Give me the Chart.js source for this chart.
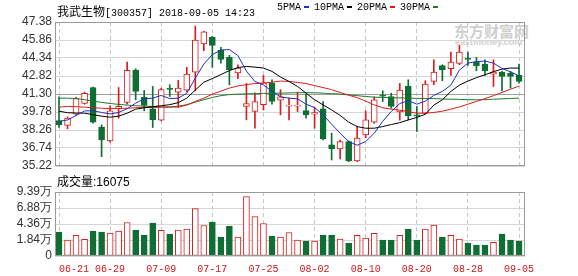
<!DOCTYPE html>
<html>
<head>
<meta charset="utf-8">
<script src="https://cdn.jsdelivr.net/npm/chart.js@4.4.1/dist/chart.umd.min.js"></script>
<style>
body { margin: 0; background: #fff; }
#wrap { position: relative; width: 578px; height: 276px; overflow: hidden; background: #fff; }
#wrap canvas { position: absolute; left: 0; }
#priceCanvas { top: 0; }
#volCanvas { top: 176px; }
.txt { position: absolute; white-space: pre; line-height: 14px; color: #000; }
.mono { font: 10px "Liberation Mono", monospace; }
.cjk { font: 12px "Noto Sans CJK SC", sans-serif; }
.dash { display: inline-block; width: 5px; height: 2px; margin: 0 5px 0 3px; vertical-align: middle; }
.mark { position: absolute; color: #cfcfcf; font-weight: bold; white-space: pre; }
</style>
</head>
<body>
<div id="wrap">
  <div class="mark" style="left:454px;top:20px;font:bold 15px 'Noto Sans CJK SC';">东方财富网</div>
  <div class="mark" style="left:455px;top:37px;font:bold 9px 'Liberation Sans';">eastmoney.com</div>
  <canvas id="priceCanvas" width="578" height="178"></canvas>
  <canvas id="volCanvas" width="578" height="100"></canvas>
  <div class="txt mono" style="left:57px;top:2px;"><span class="cjk">我武生物</span>[300357] 2018-09-05 14:23</div>
  <div class="txt mono" style="left:277px;top:2px;">5PMA<span class="dash" style="background:#1f2fc4"></span>10PMA<span class="dash" style="background:#000"></span>20PMA<span class="dash" style="background:#e01b1b"></span>30PMA<span class="dash" style="background:#1d7a2c"></span></div>
  <div class="txt" style="left:57px;top:172px;font:12px 'Liberation Sans','Noto Sans CJK SC';">成交量:16075</div>
</div>
<script>
// 日线数据
const dates = ['06-21','06-22','06-25','06-26','06-27','06-28','06-29','07-02','07-03','07-04',
  '07-05','07-06','07-09','07-10','07-11','07-12','07-13','07-16','07-17','07-18',
  '07-19','07-20','07-23','07-24','07-25','07-26','07-27','07-30','07-31','08-01',
  '08-02','08-03','08-06','08-07','08-08','08-09','08-10','08-13','08-14','08-15',
  '08-16','08-17','08-20','08-21','08-22','08-23','08-24','08-27','08-28','08-29',
  '08-30','08-31','09-03','09-04','09-05'];

const opens = [39.06,38.64,39.60,40.50,41.85,38.50,37.34,40.05,40.58,43.32,
  41.01,40.05,39.09,41.80,41.46,41.63,43.15,45.52,46.08,45.01,
  44.39,43.07,40.25,39.82,40.39,42.22,40.78,40.27,40.27,39.91,
  39.60,40.05,37.00,36.66,37.28,35.65,37.85,38.92,41.20,41.09,
  39.79,41.97,39.54,39.68,42.36,43.71,43.43,43.88,44.34,44.00,
  43.83,42.98,43.15,43.07,42.87];
const closes = [38.69,39.26,40.92,41.35,38.92,37.42,39.88,40.25,43.29,41.51,
  40.33,39.12,41.68,41.68,41.80,42.98,45.86,46.54,45.41,44.22,
  43.35,43.49,40.50,40.67,42.25,40.67,41.06,40.30,40.33,39.54,
  39.74,37.51,36.66,37.28,35.65,37.57,39.12,40.81,41.12,40.25,
  41.63,39.46,39.43,42.13,43.15,43.35,44.00,44.84,44.22,43.69,
  43.26,43.15,42.78,42.78,42.36];
const highs = [41.06,39.37,41.01,41.46,41.88,38.69,40.30,41.85,43.99,43.43,
  41.60,41.94,41.80,42.08,42.45,43.55,47.04,46.59,46.17,45.24,
  44.56,43.77,42.19,41.40,42.87,42.50,41.66,40.95,41.46,41.29,
  40.16,40.67,37.99,37.40,37.34,38.55,39.88,41.06,41.57,41.37,
  42.19,42.50,40.25,42.42,44.19,43.77,44.84,45.41,44.84,44.39,
  44.19,44.19,43.21,43.21,43.83];
const lows = [38.47,38.36,39.54,40.44,38.83,36.01,37.23,39.26,40.44,40.81,
  39.88,38.47,39.03,41.09,40.16,41.51,41.57,44.96,43.55,43.91,
  42.08,42.59,39.12,38.41,39.94,40.44,39.54,39.12,39.82,39.26,
  38.41,37.42,35.73,35.82,35.59,35.59,37.62,38.83,40.67,40.10,
  39.09,39.12,38.13,39.60,42.08,42.42,42.87,43.77,43.71,43.26,
  42.87,41.94,41.57,41.80,42.22];

const ma5 = [38.98,39.11,39.48,39.87,39.89,39.74,39.62,39.74,40.06,40.53,
  40.89,40.95,41.18,40.91,40.95,41.37,42.64,43.83,44.63,45.01,
  45.05,44.55,43.23,42.36,42.07,41.52,41.06,40.95,40.89,40.44,
  40.16,39.54,38.75,37.99,37.29,36.97,37.29,37.99,39.00,39.82,
  40.49,40.74,40.44,40.70,41.18,41.52,42.05,43.32,43.91,44.04,
  44.08,43.91,43.46,43.17,42.83];
const ma10 = [39.85,39.72,39.70,39.68,39.55,39.43,39.34,39.43,39.68,40.02,
  40.14,40.23,40.31,40.40,40.57,40.95,41.63,42.30,42.60,42.94,
  43.28,43.53,43.63,43.57,43.49,43.21,42.73,42.36,41.94,41.37,
  40.82,40.38,39.96,39.49,38.92,38.55,38.41,38.41,38.55,38.72,
  38.88,39.11,39.32,39.59,40.36,40.81,41.52,42.05,42.39,42.68,
  42.92,43.19,43.40,43.49,43.49];
const ma20 = [40.19,40.25,40.23,40.19,40.14,40.10,40.06,40.08,40.10,40.14,
  40.16,40.16,40.19,40.19,40.20,40.36,40.67,40.95,41.29,41.54,
  41.80,41.98,42.09,42.18,42.22,42.30,42.39,42.36,42.28,42.18,
  42.01,41.84,41.67,41.43,41.20,40.99,40.70,40.38,40.14,40.02,
  39.93,39.81,39.68,39.68,39.74,39.85,40.02,40.21,40.44,40.67,
  40.91,41.16,41.43,41.71,41.96];
const ma30 = [40.95,40.95,40.92,40.82,40.70,40.59,40.50,40.42,40.36,40.31,
  40.27,40.25,40.21,40.21,40.27,40.40,40.61,40.82,41.01,41.16,
  41.25,41.29,41.31,41.33,41.35,41.37,41.37,41.39,41.41,41.41,
  41.40,41.37,41.33,41.29,41.22,41.16,41.09,41.03,41.01,40.99,
  40.97,40.95,40.93,40.92,40.91,40.88,40.86,40.85,40.82,40.81,
  40.82,40.86,40.89,40.92,40.95];

// 成交量 (万)
const volumes = [3.50,2.34,3.02,2.43,3.65,3.50,3.36,3.65,4.91,3.79,
  3.07,4.82,3.75,3.21,3.79,3.94,6.96,4.48,4.96,2.77,
  4.38,2.77,8.71,5.79,4.77,2.92,2.77,3.45,2.34,2.19,
  2.19,3.07,3.07,2.48,1.90,3.02,2.63,3.31,2.34,2.34,
  3.02,3.94,2.34,3.94,4.52,2.77,3.02,2.48,1.90,1.61,
  1.61,1.99,3.21,2.34,2.19];

const priceTicks = [35.22,36.74,38.26,39.78,41.30,42.82,44.34,45.86,47.38];
const volTickLabels = ['0','1.84万','4.36万','6.88万','9.39万'];
const volMax = 9.39;
const dateTickIdx = [0,6,12,18,24,30,36,42,48,54];

const RED = '#d81e1e';
const GREEN = '#0f6e34';
const up = closes.map((c, i) => c >= opens[i]);

// 画边框
const frame = {
  id: 'frame',
  afterDatasetsDraw(chart) {
    const a = chart.chartArea, ctx = chart.ctx;
    ctx.save();
    ctx.strokeStyle = '#9a9a9a';
    ctx.lineWidth = 1;
    ctx.strokeRect(Math.round(a.left) + 0.5, Math.round(a.top) + 0.5,
      Math.round(a.right - a.left) - 1, Math.round(a.bottom - a.top) - 1);
    ctx.restore();
  }
};

function xAxis(showLabels) {
  return {
    type: 'linear',
    min: -0.47,
    max: 54.7,
    offset: false,
    afterBuildTicks: s => { s.ticks = dateTickIdx.map(v => ({ value: v })); },
    afterFit: s => { s.height = showLabels ? 20 : 0; },
    grid: { offset: false, color: '#c8c8c8', drawTicks: false, borderDash: [4, 3] },
    border: { display: false, dash: [4, 3] },
    ticks: {
      display: showLabels,
      autoSkip: false,
      maxRotation: 0,
      padding: 7,
      color: '#d01818',
      font: { family: 'Liberation Mono', size: 10 },
      callback: (v, i) => i === 0 ? '     ' + dates[v] : dates[v]
    }
  };
}

const yFont = { family: 'Liberation Sans', size: 12 };

new Chart(document.getElementById('priceCanvas'), {
  type: 'bar',
  data: {
    datasets: [
      { type: 'line', data: ma5.map((v, i) => ({ x: i, y: v })), borderColor: '#1f2fc4', borderWidth: 1, pointRadius: 0, order: 0 },
      { type: 'line', data: ma10.map((v, i) => ({ x: i, y: v })), borderColor: '#000', borderWidth: 1, pointRadius: 0, order: 0 },
      { type: 'line', data: ma20.map((v, i) => ({ x: i, y: v })), borderColor: '#e01b1b', borderWidth: 1, pointRadius: 0, order: 0 },
      { type: 'line', data: ma30.map((v, i) => ({ x: i, y: v })), borderColor: '#1d7a2c', borderWidth: 1, pointRadius: 0, order: 0 },
      {
        data: opens.map((o, i) => ({ x: i, y: [o, closes[i]] })),
        backgroundColor: up.map(u => u ? '#fff' : GREEN),
        borderColor: up.map(u => u ? RED : GREEN),
        borderWidth: 1, borderSkipped: false, barThickness: 6, minBarLength: 1, grouped: false, order: 1
      },
      {
        data: lows.map((l, i) => ({ x: i, y: [l, highs[i]] })),
        backgroundColor: up.map(u => u ? RED : GREEN),
        barThickness: 1, grouped: false, order: 2
      }
    ]
  },
  options: {
    responsive: false,
    animation: false,
    layout: { padding: { top: 22, right: 53, bottom: 12, left: 0 } },
    plugins: { legend: { display: false }, tooltip: { enabled: false } },
    scales: {
      x: xAxis(false),
      y: {
        min: 35.22,
        max: 47.38,
        afterBuildTicks: s => { s.ticks = priceTicks.map(v => ({ value: v })); },
        afterFit: s => { s.width = 55; },
        grid: { drawTicks: false, color: c => c.index === 4 ? '#a0a0a0' : '#d6d6d6' },
        border: { display: false },
        ticks: { autoSkip: false, padding: 3, color: '#333', font: yFont, callback: v => v.toFixed(2) }
      }
    }
  },
  plugins: [frame]
});

new Chart(document.getElementById('volCanvas'), {
  type: 'bar',
  data: {
    datasets: [{
      data: volumes.map((v, i) => ({ x: i, y: v })),
      backgroundColor: up.map(u => u ? '#fff' : GREEN),
      borderColor: up.map(u => u ? RED : GREEN),
      borderWidth: 1, borderSkipped: false, barThickness: 6, grouped: false
    }]
  },
  options: {
    responsive: false,
    animation: false,
    layout: { padding: { top: 16, right: 53, bottom: 0, left: 0 } },
    plugins: { legend: { display: false }, tooltip: { enabled: false } },
    scales: {
      x: xAxis(true),
      y: {
        min: 0,
        max: volMax,
        afterBuildTicks: s => { s.ticks = volTickLabels.map((t, k) => ({ value: volMax * k / 4 })); },
        afterFit: s => { s.width = 55; },
        grid: { drawTicks: false, color: '#d6d6d6' },
        border: { display: false },
        ticks: { autoSkip: false, padding: 3, color: '#333', font: yFont, callback: (v, i) => volTickLabels[i] }
      }
    }
  },
  plugins: [frame]
});
</script>
</body>
</html>
